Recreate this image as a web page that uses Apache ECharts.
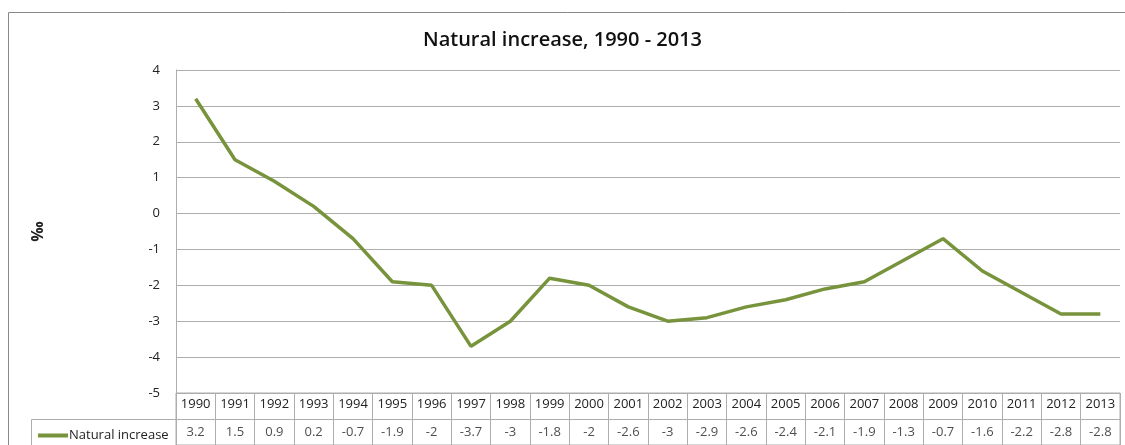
<!DOCTYPE html>
<html>
<head>
<meta charset="utf-8">
<script src="https://cdn.jsdelivr.net/npm/echarts@6/dist/echarts.min.js"></script>
<style>
html, body { margin: 0; padding: 0; background: #fff; }
#chart { width: 1125px; height: 445px; }
</style>
</head>
<body>
<div id="chart"></div>
<script>
var years = ['1990','1991','1992','1993','1994','1995','1996','1997','1998','1999','2000','2001',
             '2002','2003','2004','2005','2006','2007','2008','2009','2010','2011','2012','2013'];
var naturalIncrease = [3.2, 1.5, 0.9, 0.2, -0.7, -1.9, -2, -3.7, -3, -1.8, -2, -2.6,
                       -3, -2.9, -2.6, -2.4, -2.1, -1.9, -1.3, -0.7, -1.6, -2.2, -2.8, -2.8];
var seriesName = 'Natural increase';
var chartTitle = 'Natural increase, 1990 - 2013';
var yTicks = { min: -5, max: 4, step: 1 };

var font = 'Open Sans';
var gridColor = '#adadad';
var lineColor = '#77933c';

var myChart = echarts.init(document.getElementById('chart'));

var tableCells = years.map(function (y, i) {
    return [y, 'val', naturalIncrease[i]];
});

option = {
    animation: false,
    title: {
        text: chartTitle,
        left: 'center',
        top: 25,
        textStyle: { fontFamily: font, fontSize: 20, fontWeight: 600, color: '#111' }
    },
    legend: {
        left: 33,
        top: 424,
        itemWidth: 30,
        itemHeight: 4,
        itemGap: 0,
        icon: 'rect',
        textStyle: { fontFamily: font, fontSize: 13, color: '#222', padding: [0, 0, 0, -4] },
        data: [seriesName]
    },
    grid: [
        { left: 176, right: 5, top: 70, height: 323 },
        { left: 176, right: 5, top: 393, height: 52, show: true, borderColor: gridColor, borderWidth: 1 }
    ],
    xAxis: [
        {
            gridIndex: 0, type: 'category', data: years, boundaryGap: true,
            axisLine: { show: false }, axisTick: { show: false }, axisLabel: { show: false }
        },
        {
            gridIndex: 1, type: 'category', data: years, boundaryGap: true, position: 'top',
            axisLine: { show: false }, axisTick: { show: false },
            axisLabel: { inside: true, margin: 5, fontFamily: font, fontSize: 13, color: '#222' },
            splitLine: { show: true, interval: 0, lineStyle: { color: gridColor } }
        }
    ],
    yAxis: [
        {
            gridIndex: 0, type: 'value', min: yTicks.min, max: yTicks.max, interval: yTicks.step,
            name: '‰', nameLocation: 'middle', nameRotate: 90, nameGap: 130,
            nameTextStyle: { fontFamily: font, fontSize: 16, fontWeight: 'bold', color: '#222' },
            axisLine: { show: true, lineStyle: { color: gridColor } },
            axisTick: { show: false },
            axisLabel: { margin: 16, fontFamily: font, fontSize: 13, color: '#222' },
            splitLine: { show: true, lineStyle: { color: gridColor } }
        },
        {
            gridIndex: 1, type: 'category', data: ['val', 'yr'], boundaryGap: true,
            axisLine: { show: false }, axisTick: { show: false }, axisLabel: { show: false },
            splitLine: { show: true, interval: 0, lineStyle: { color: gridColor } }
        }
    ],
    series: [
        {
            name: seriesName,
            type: 'line',
            data: naturalIncrease,
            xAxisIndex: 0, yAxisIndex: 0,
            symbol: 'none',
            lineStyle: { color: lineColor, width: 3.5 },
            itemStyle: { color: lineColor }
        },
        {
            name: 'table',
            type: 'scatter',
            xAxisIndex: 1, yAxisIndex: 1,
            symbolSize: 0,
            data: tableCells,
            label: {
                show: true, position: 'inside',
                fontFamily: font, fontSize: 13, color: '#222',
                formatter: function (p) { return String(p.value[2]); }
            },
            silent: true
        }
    ],
    graphic: [
        { type: 'rect', shape: { x: 8.5, y: 12.5, width: 1130, height: 450 },
          style: { fill: null, stroke: '#888', lineWidth: 1 }, silent: true },
        { type: 'rect', shape: { x: 31.5, y: 419.5, width: 145, height: 40 },
          style: { fill: null, stroke: gridColor, lineWidth: 1 }, silent: true }
    ]
};

myChart.setOption(option, true);
</script>
</body>
</html>
